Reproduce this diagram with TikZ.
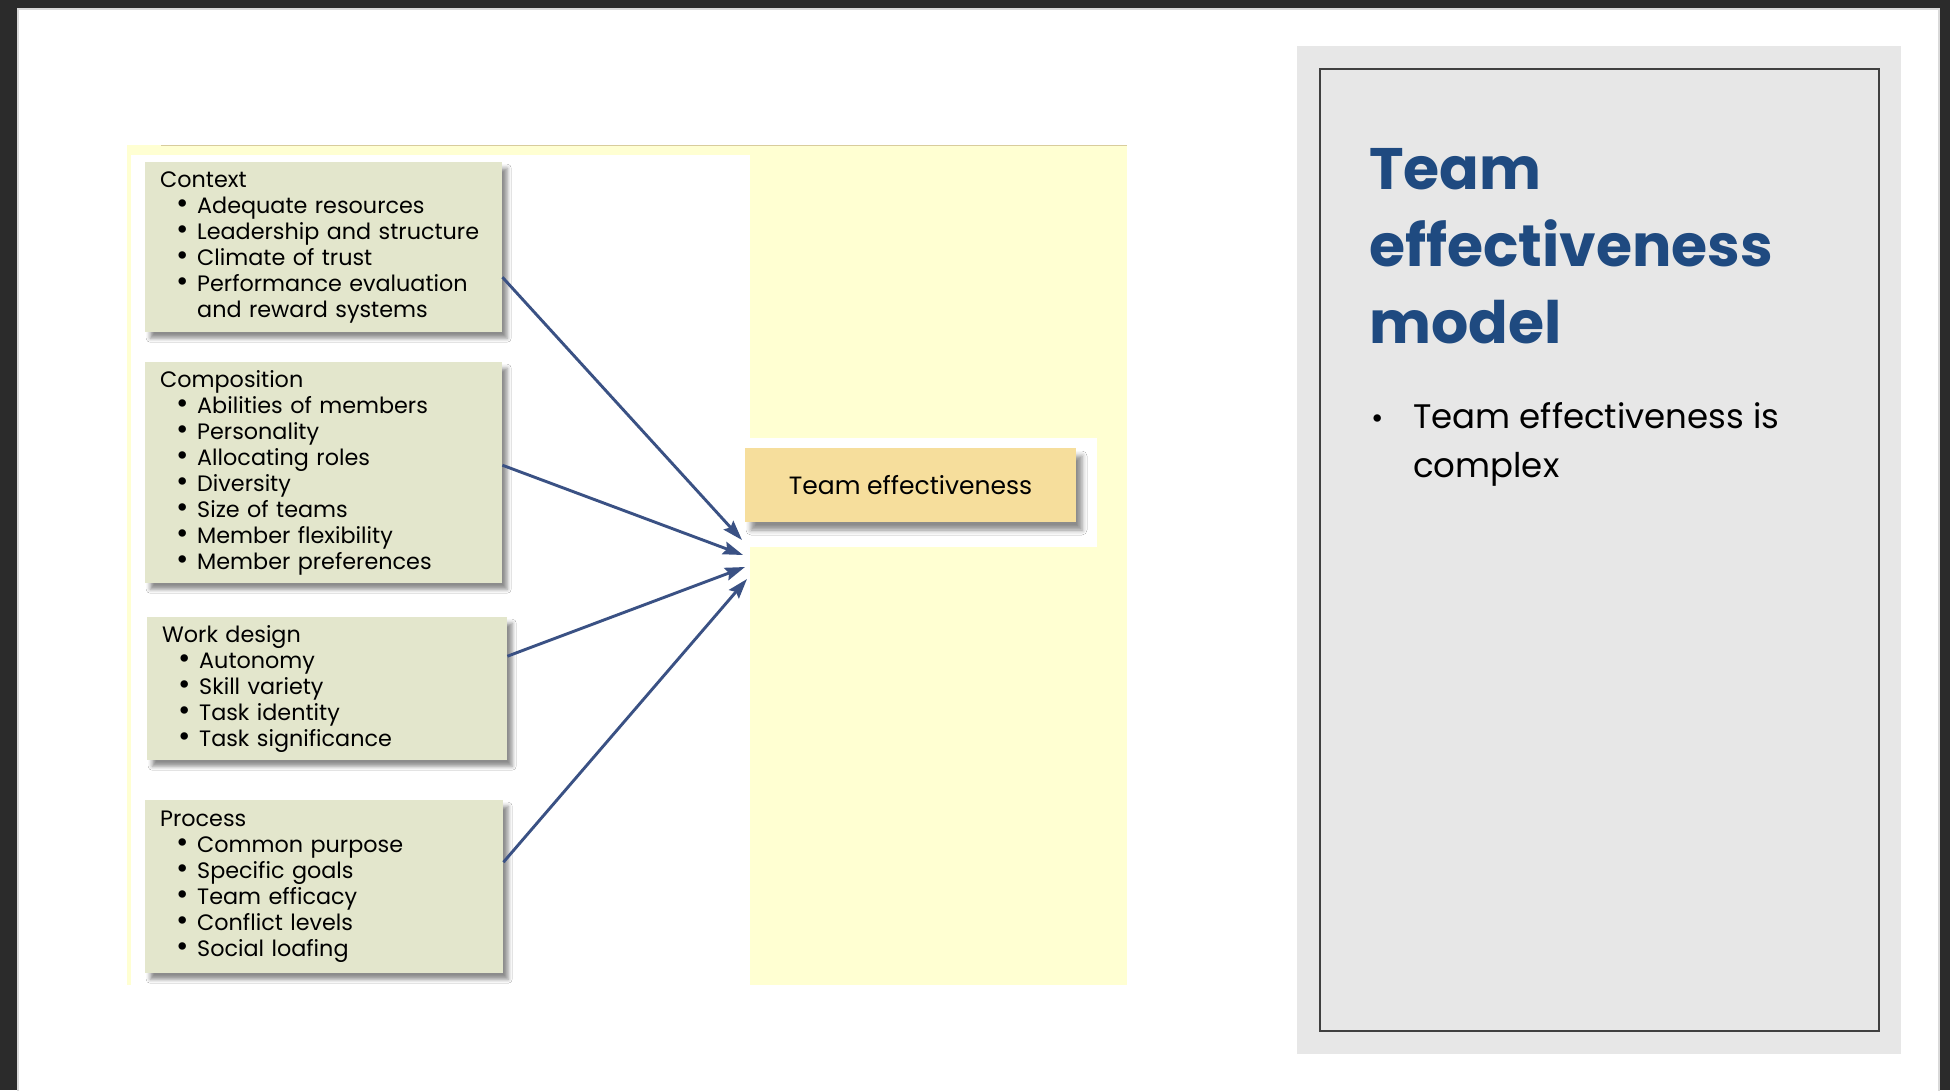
\documentclass[tikz,border=0pt]{standalone}
\usepackage{fontspec}
\setmainfont{Poppins}
\usetikzlibrary{shadows.blur,arrows.meta}
\definecolor{frame}{HTML}{2B2B2B}
\definecolor{panel}{HTML}{E7E7E7}
\definecolor{titleblue}{HTML}{1F4A80}
\definecolor{boxfill}{HTML}{E3E6CC}
\definecolor{teamfill}{HTML}{F6DE9C}
\definecolor{paleyellow}{HTML}{FFFFD2}
\definecolor{tanline}{HTML}{D8CC9C}
\definecolor{arrowblue}{HTML}{3A5184}
\definecolor{rimgray}{HTML}{404040}
\newcommand{\bu}{\hspace*{16pt}\makebox[21pt][l]{\raisebox{-0.5pt}{\scalebox{1.35}{\textbullet}}}}
\tikzset{
  factorbox/.style={rectangle, fill=boxfill, anchor=north west, inner xsep=15pt, inner ysep=0pt,
    align=left, font=\fontsize{22.3}{26}\selectfont,
    blur shadow={shadow xshift=5pt, shadow yshift=-6pt, shadow blur radius=4pt, shadow opacity=45}},
  teambox/.style={rectangle, fill=teamfill, minimum width=331pt, minimum height=74pt,
    font=\fontsize{25}{28}\selectfont,
    blur shadow={shadow xshift=6pt, shadow yshift=-8pt, shadow blur radius=5pt, shadow opacity=45}},
  link/.style={draw=arrowblue, line width=2.9pt, -{Stealth[length=20pt,width=13pt,inset=3pt]}}
}
\begin{document}
\begin{tikzpicture}[x=1pt,y=-1pt]
\useasboundingbox (0,0) rectangle (1950,1090);
% frame and slide
\fill[frame] (0,0) rectangle (1950,1090);
\filldraw[fill=white, draw=black!15, line width=2pt] (18,9) rectangle (1939,1100);
% figure background
\fill[paleyellow] (127,145) rectangle (1127,985);
\fill[white] (131,155) rectangle (750,985);
\draw[tanline, line width=1.5pt] (161,145.5) -- (1127,145.5);
\fill[white] (750,438) rectangle (1097,547);
% factor boxes
\node[factorbox, text width=327pt, minimum height=170pt] (ctx) at (145,162)
  {Context\\ \bu Adequate resources\\ \bu Leadership and structure\\ \bu Climate of trust\\
   \bu Performance evaluation\\ \hspace*{37pt}and reward systems};
\node[factorbox, text width=327pt, minimum height=221pt] (cmp) at (145,362)
  {Composition\\ \bu Abilities of members\\ \bu Personality\\ \bu Allocating roles\\
   \bu Diversity\\ \bu Size of teams\\ \bu Member flexibility\\ \bu Member preferences};
\node[factorbox, text width=330pt, minimum height=143pt] (wd) at (147,617)
  {Work design\\ \bu Autonomy\\ \bu Skill variety\\ \bu Task identity\\ \bu Task significance};
\node[factorbox, text width=328pt, minimum height=173pt] (prc) at (145,800)
  {Process\\ \bu Common purpose\\ \bu Specific goals\\ \bu Team efficacy\\
   \bu Conflict levels\\ \bu Social loafing};
% outcome
\node[teambox] (team) at (910.5,485) {Team effectiveness};
\coordinate (t1) at (742,540);
\coordinate (t2) at (743,555);
\coordinate (t3) at (745,567);
\coordinate (t4) at (747,579);
\draw[link] ([yshift=-30pt]ctx.east) -- (t1);
\draw[link] ([yshift=7.5pt]cmp.east) -- (t2);
\draw[link] ([yshift=32.5pt]wd.east) -- (t3);
\draw[link] ([yshift=24.5pt]prc.east) -- (t4);
% right panel
\fill[panel] (1297,46) rectangle (1901,1054);
\draw[rimgray, line width=1.5pt] (1320,69) rectangle (1879,1031);
\node[anchor=base west, inner sep=0pt, align=left, text=titleblue,
  font=\bfseries\fontsize{58.5}{77}\selectfont] (title) at (1369,343)
  {Team\\ effectiveness\\ model};
\node[anchor=base west, inner sep=0pt, font=\fontsize{30}{49}\selectfont] (pbul) at (1371,428) {\textbullet};
\node[anchor=base west, inner sep=0pt, align=left, font=\fontsize{34}{49}\selectfont] (ptxt) at (1413,477)
  {Team effectiveness is\\ complex};
\end{tikzpicture}
\end{document}
